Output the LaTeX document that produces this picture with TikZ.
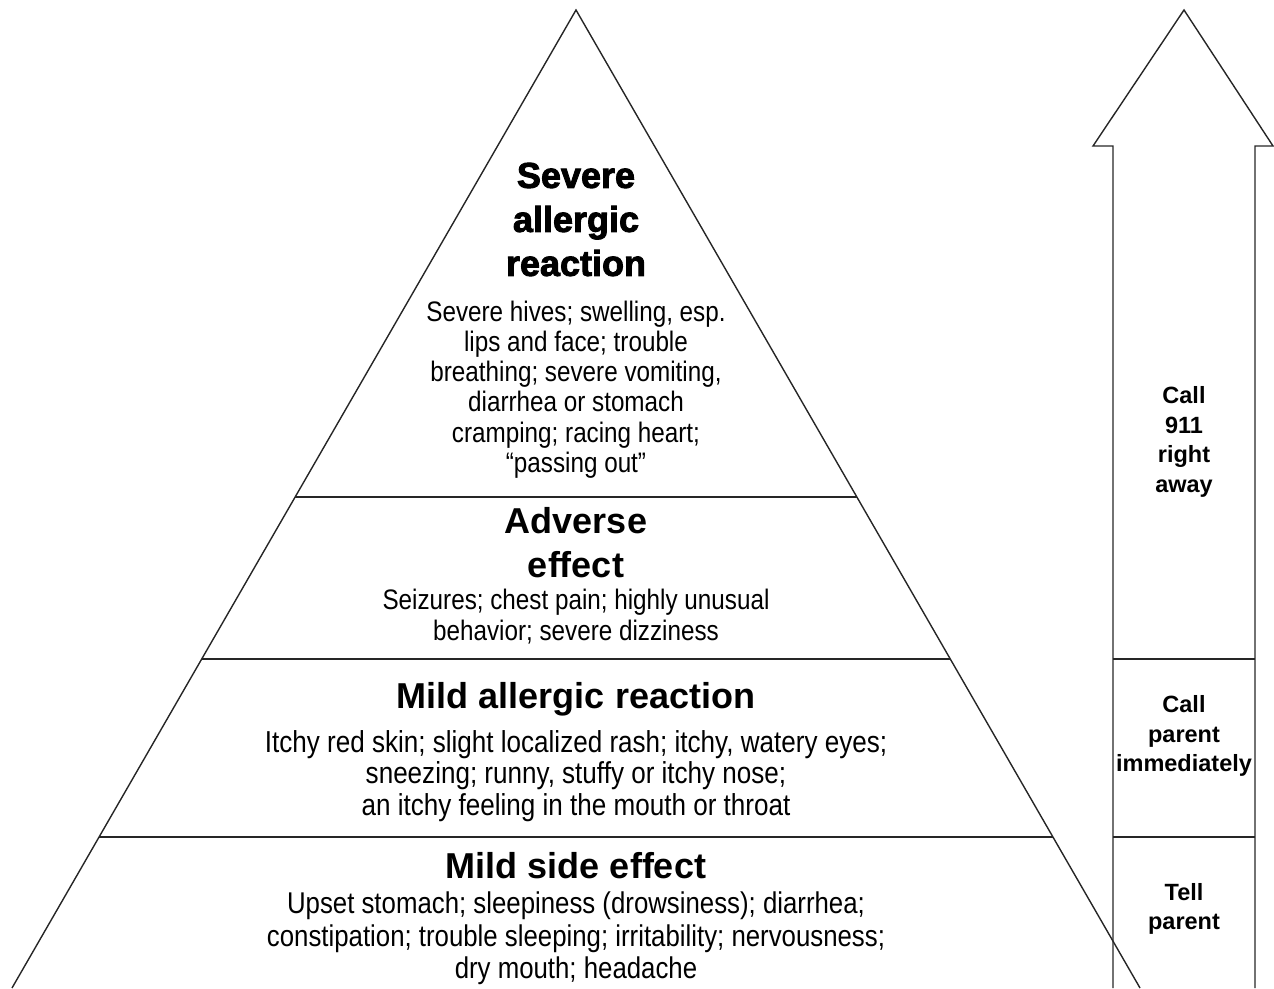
\documentclass[tikz,border=0pt]{standalone}
\usepackage{fontspec}
\setmainfont{Liberation Sans}
\newfontfamily\narrowfont[FakeStretch=0.86]{Liberation Sans}
\newfontfamily\heavyfont[FakeBold=2.5]{Liberation Sans Bold}
\usetikzlibrary{positioning, calc}
\tikzstyle{every node}=[align=center, inner sep=0pt]
\tikzstyle{tiertitle}=[font=\fontsize{36}{44}\selectfont\bfseries]
\tikzstyle{severetitle}=[font=\fontsize{36}{44}\selectfont\heavyfont]
\tikzstyle{symptoms}=[font=\fontsize{30.3}{31.5}\selectfont\narrowfont]
\tikzstyle{smallsymptoms}=[font=\fontsize{28.2}{30.3}\selectfont\narrowfont]
\tikzstyle{advice}=[font=\fontsize{23.5}{29.5}\selectfont\bfseries]
\tikzstyle{edge}=[line width=1.4pt, draw=black!85]

\begin{document}
\begin{tikzpicture}[x=1pt, y=1pt]
  \useasboundingbox (0,0) rectangle (1274,988);
  % pyramid
  \coordinate (apex) at (576,978);
  \coordinate (bl) at (12,0);
  \coordinate (br) at (1140,0);
  \draw[edge] (bl) -- (apex) -- (br);
  \foreach \t in {0.498,0.6636,0.8456}
    \draw[edge] ($(apex)!\t!(bl)$) -- ($(apex)!\t!(br)$);
  % arrow on the right
  \draw[edge] (1113,0) -- (1113,842) -- (1093,842) -- (1184,978)
    -- (1273,842) -- (1255,842) -- (1255,0);
  \foreach \y in {329,151}
    \draw[edge] (1113,\y) -- (1255,\y);

  \node[severetitle] (severe) at (576,768.5) {Severe\\allergic\\reaction};
  \node[smallsymptoms, below of=severe, node distance=170pt] (severeS) {Severe hives; swelling, esp.\\lips and face; trouble\\breathing; severe vomiting,\\diarrhea or stomach\\cramping; racing heart;\\“passing out”};
  \node[tiertitle] (adverse) at (576,445.5) {Adverse\\effect};
  \node[smallsymptoms, below of=adverse, node distance=74pt] (adverseS) {Seizures; chest pain; highly unusual\\behavior; severe dizziness};
  \node[tiertitle] (mildallergic) at (576,289) {Mild allergic reaction};
  \node[symptoms, below of=mildallergic, node distance=77pt] (mildallergicS) {Itchy red skin; slight localized rash; itchy, watery eyes;\\sneezing; runny, stuffy or itchy nose;\\an itchy feeling in the mouth or throat};
  \node[tiertitle] (mildside) at (576,122) {Mild side effect};
  \node[symptoms, below of=mildside, node distance=72.5pt, font=\fontsize{30}{32.5}\selectfont\narrowfont] (mildsideS) {Upset stomach; sleepiness (drowsiness); diarrhea;\\constipation; trouble sleeping; irritability; nervousness;\\dry mouth; headache};

  \node[advice] (call911) at (1184,546) {Call\\911\\right\\away};
  \node[advice] (callparent) at (1184,252) {Call\\parent\\immediately};
  \node[advice] (tellparent) at (1184,79) {Tell\\parent};
\end{tikzpicture}
\end{document}
